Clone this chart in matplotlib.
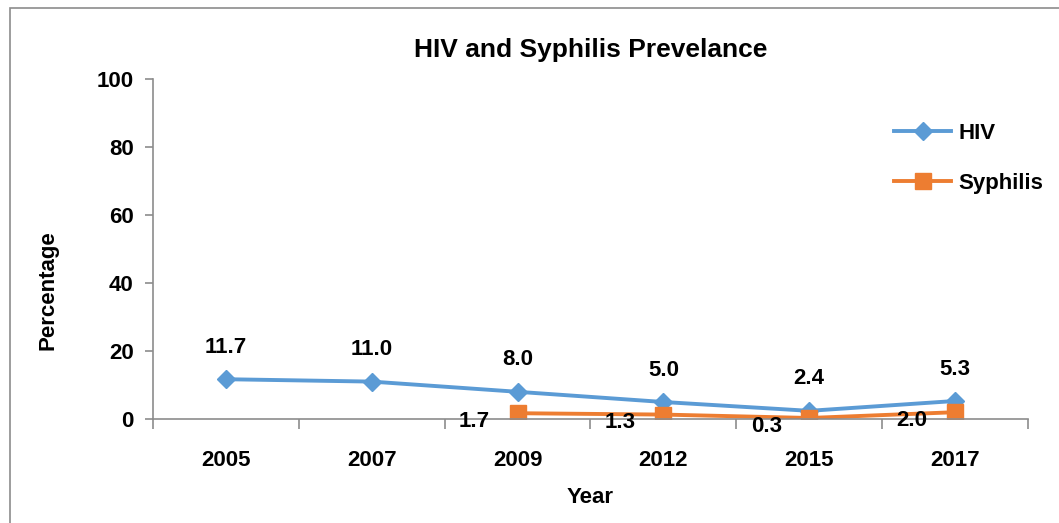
import matplotlib
matplotlib.use("Agg")
import matplotlib.pyplot as plt
from matplotlib.patches import Rectangle
import numpy as np

plt.rcParams["font.family"] = ["Liberation Sans Narrow", "Liberation Sans", "DejaVu Sans"]
plt.rcParams["font.weight"] = "bold"

years = ["2005", "2007", "2009", "2012", "2015", "2017"]
hiv = [11.7, 11.0, 8.0, 5.0, 2.4, 5.3]
syph_years = ["2009", "2012", "2015", "2017"]
syph = [1.7, 1.3, 0.3, 2.0]

HIV_C = "#5B9BD5"
SYPH_C = "#ED7D31"
FS = 16

fig = plt.figure(figsize=(10.59, 5.23), dpi=100)
# chart frame
fig.patches.append(Rectangle((10 / 1059, -0.1), 1.2, 1.1 - 8 / 523, transform=fig.transFigure,
                             fill=False, edgecolor="#8c8c8c", linewidth=1.2))

ax = fig.add_axes([153 / 1059, 104 / 523, 875 / 1059, 340 / 523])
x = np.arange(len(years))
xs = np.array([years.index(y) for y in syph_years])

ax.plot(x, hiv, color=HIV_C, lw=2.8, marker="D", ms=9, label="HIV")
ax.plot(xs, syph, color=SYPH_C, lw=2.8, marker="s", ms=11, label="Syphilis")

for xi, v in zip(x, hiv):
    ax.annotate(f"{v:.1f}", (xi, v), xytext=(0, 23), textcoords="offset points",
                ha="center", va="center", fontsize=FS, fontweight="bold")
for xi, v in zip(xs, syph):
    ax.annotate(f"{v:.1f}", (xi, v), xytext=(-31, -6), textcoords="offset points",
                ha="center", va="center", fontsize=FS, fontweight="bold")

ax.set_xlim(-0.5, len(years) - 0.5)
ax.set_ylim(0, 100)
ax.set_yticks(range(0, 101, 20))
ax.set_xticks(x)
ax.set_xticklabels(years)
ax.set_xticks(np.arange(-0.5, len(years)), minor=True)
ax.tick_params(axis="x", which="major", length=0, pad=22, labelsize=FS)
ax.tick_params(axis="x", which="minor", length=7, color="#8c8c8c", width=1.2)
ax.tick_params(axis="y", length=6, color="#8c8c8c", width=1.2, labelsize=FS, pad=8)
for s in ("top", "right"):
    ax.spines[s].set_visible(False)
for s in ("left", "bottom"):
    ax.spines[s].set_color("#8c8c8c")
    ax.spines[s].set_linewidth(1.2)

ax.set_xlabel("Year", fontsize=FS, fontweight="bold", labelpad=12)
ax.set_ylabel("Percentage", fontsize=FS, fontweight="bold")
ax.yaxis.set_label_coords(-0.108, 0.38)
ax.set_title("HIV and Syphilis Prevelance", fontsize=19, fontweight="bold", pad=16)

ax.legend(loc="upper right", bbox_to_anchor=(1.04, 0.93), frameon=False, fontsize=FS,
          handlelength=2.6, labelspacing=1.3, handletextpad=0.3)

fig.savefig("out.png", dpi=100)
